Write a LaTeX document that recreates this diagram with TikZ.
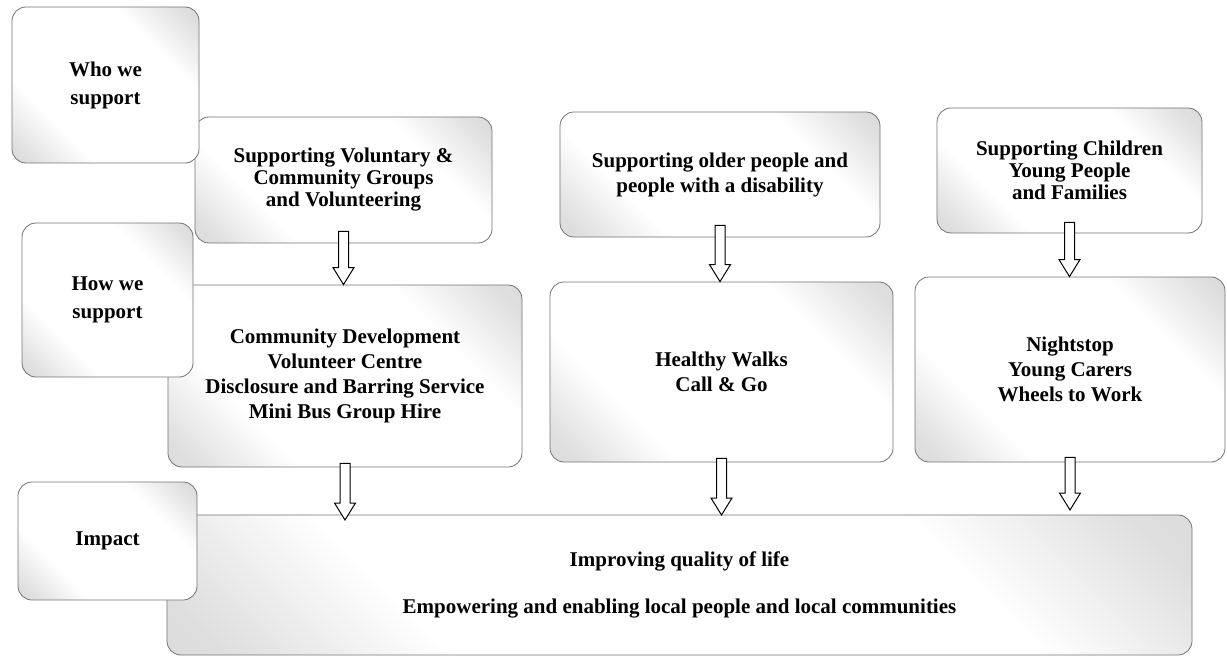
\documentclass[tikz,border=0pt]{standalone}
\usepackage{fontspec}
\setmainfont{Liberation Serif}
\usetikzlibrary{calc,positioning}

% light grey in two opposite corners, white across the middle
\pgfdeclareverticalshading{cornerfade}{100bp}{%
  color(0bp)=(black!16); color(18bp)=(black!13); color(32bp)=(white);
  color(68bp)=(white); color(82bp)=(black!13); color(100bp)=(black!16)}

% outlined block arrow pointing down, x taken from the start point
\newcommand{\holarrow}[2]{%
  \draw[blockarrow] let \p1=(#1), \p2=(#2) in
    (\x1-5pt,\y1) -- (\x1+5pt,\y1) -- (\x1+5pt,\y2+17pt) -- (\x1+10.5pt,\y2+17pt)
    -- (\x1,\y2) -- (\x1-10.5pt,\y2+17pt) -- (\x1-5pt,\y2+17pt) -- cycle;}

\begin{document}
\begin{tikzpicture}[
  x=1pt, y=-1pt,
  panel/.style={
    draw=black!55,
    line width=0.8pt,
    rounded corners=14pt,
    shading=cornerfade,
    shading angle=-45,
    align=center,
    inner sep=0pt,
    font=\bfseries\fontsize{21}{#1}\selectfont
    },
  panel/.default=22,
  blockarrow/.style={
    draw=black,
    fill=white,
    line width=1pt,
    line join=miter
    }
]

\useasboundingbox (0,0) rectangle (1227,666);

% outcome box along the bottom
\node[panel=24, minimum width=1025pt, minimum height=140pt] (life) at (679.5,585)
  {Improving quality of life\\[23pt]
   Empowering and enabling local people and local communities};

% who we support
\node[panel, minimum width=297pt, minimum height=126pt] (volgroups) at (343.5,180)
  {Supporting Voluntary \&\\Community Groups\\and Volunteering};
\node[panel=25, minimum width=320pt, minimum height=125pt] (older) at (720,174.5)
  {Supporting older people and\\people with a disability};
\node[panel, minimum width=265pt, minimum height=125pt] (children) at (1069.5,170.5)
  {Supporting Children\\Young People\\and Families};

% how we support
\node[panel=25, minimum width=354pt, minimum height=182pt] (commdev) at (345,376)
  {Community Development\\Volunteer Centre\\Disclosure and Barring Service\\Mini Bus Group Hire};
\node[panel=25, minimum width=343pt, minimum height=180pt] (walks) at (721.5,372)
  {Healthy Walks\\Call \& Go};
\node[panel=25, minimum width=310pt, minimum height=185pt] (nightstop) at (1070,369.5)
  {Nightstop\\Young Carers\\Wheels to Work};

% row headings on the left
\node[panel=28, minimum width=187pt, minimum height=156pt] (who) at (105.5,85)
  {Who we\\support};
\node[panel=28, minimum width=171pt, minimum height=154pt] (how) at (107.5,300)
  {How we\\support};
\node[panel, minimum width=179pt, minimum height=118pt] (impact) at (107.5,541)
  {Impact};

% arrow tips that stop above the outcome box
\coordinate (tipA) at (345,520);
\coordinate (tipB) at (722,515);
\coordinate (tipC) at (1073,510);

\holarrow{[yshift=12pt]volgroups.south}{commdev.north}
\holarrow{[yshift=12pt]older.south}{walks.north}
\holarrow{[yshift=11pt]children.south}{nightstop.north}

\holarrow{[yshift=4pt]commdev.south}{tipA}
\holarrow{[yshift=4pt]walks.south}{tipB}
\holarrow{[yshift=5pt]nightstop.south}{tipC}
\end{tikzpicture}
\end{document}
